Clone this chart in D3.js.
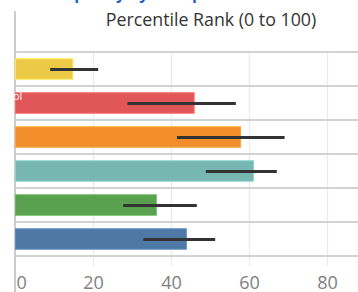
<!DOCTYPE html>
<html><head><meta charset="utf-8">
<script src="https://cdn.jsdelivr.net/npm/d3@7"></script>
<style>html,body{margin:0;padding:0;background:#fff;overflow:hidden}</style>
</head><body>
<svg id="c" width="358" height="292"></svg>
<script>
const categories = ["Group 1","Group 2","Group 3","Group 4","Group 5","Group 6"];
const values = [14.7, 45.8, 57.7, 61.0, 36.1, 43.8];
const lows = [8.9, 28.7, 41.4, 48.8, 27.6, 32.8];
const highs = [21.2, 56.5, 69.0, 67.0, 46.5, 51.2];
const colors = ["#edc948","#e15759","#f28e2b","#76b7b2","#59a14f","#4e79a7"];
const tickValues = [0, 20, 40, 60, 80, 100];

const svg = d3.select("#c");
const x = d3.scaleLinear().domain([0, 100]).range([15.5, 405.5]);
const y = d3.scaleBand().domain(categories).range([52, 256]).paddingInner(0.4).paddingOuter(0.2);

// clipped blue header text
svg.append("text").attr("x", 60).attr("y", -1.5).attr("fill", "#1f5fbf")
  .style("font-family", "Open Sans").style("font-size", "16px").style("font-weight", "bold")
  .text("Equality by Groups");

// title
svg.append("text").attr("x", 211).attr("y", 26).attr("text-anchor", "middle")
  .attr("fill", "#333").style("font-family", "Open Sans").style("font-size", "17.8px")
  .text("Percentile Rank (0 to 100)");

// gridlines
svg.append("g").selectAll("line").data(tickValues).join("line")
  .attr("x1", d => x(d)).attr("x2", d => x(d)).attr("y1", 52).attr("y2", 266)
  .attr("stroke", "#ececec").attr("stroke-width", 1.5);

// separators
const seps = d3.range(categories.length + 1).map(i => 52 + i * y.step());
svg.append("g").selectAll("line").data(seps).join("line")
  .attr("x1", 15).attr("x2", 358).attr("y1", d => d).attr("y2", d => d)
  .attr("stroke", "#d2d2d2").attr("stroke-width", 2);

// left axis line
svg.append("line").attr("x1", 15).attr("x2", 15).attr("y1", 11).attr("y2", 292)
  .attr("stroke", "#cccccc").attr("stroke-width", 2);

// bars
svg.append("g").selectAll("rect").data(categories).join("rect")
  .attr("x", x(0)).attr("y", d => y(d))
  .attr("width", (d, i) => x(values[i]) - x(0)).attr("height", y.bandwidth())
  .attr("fill", (d, i) => colors[i])
  .attr("stroke", (d, i) => d3.color(colors[i]).brighter(0.4)).attr("stroke-width", 1);

// error bars
svg.append("g").selectAll("line").data(categories).join("line")
  .attr("x1", (d, i) => x(lows[i])).attr("x2", (d, i) => x(highs[i]))
  .attr("y1", d => y(d) + y.bandwidth() / 2 + 0.5).attr("y2", d => y(d) + y.bandwidth() / 2 + 0.5)
  .attr("stroke", "#333").attr("stroke-width", 3);

// white clipped label
svg.append("text").attr("x", 13).attr("y", 100).attr("fill", "#fff")
  .style("font-family", "Open Sans").style("font-size", "11px").text("ol");

// tick labels
svg.append("g").selectAll("text").data(tickValues).join("text")
  .attr("x", d => d === 0 ? x(d) + 1 : x(d)).attr("y", 289)
  .attr("text-anchor", d => d === 0 ? "start" : "middle")
  .attr("fill", "#808080").style("font-family", "Open Sans").style("font-size", "18px")
  .text(d => d);
</script>
</body></html>
